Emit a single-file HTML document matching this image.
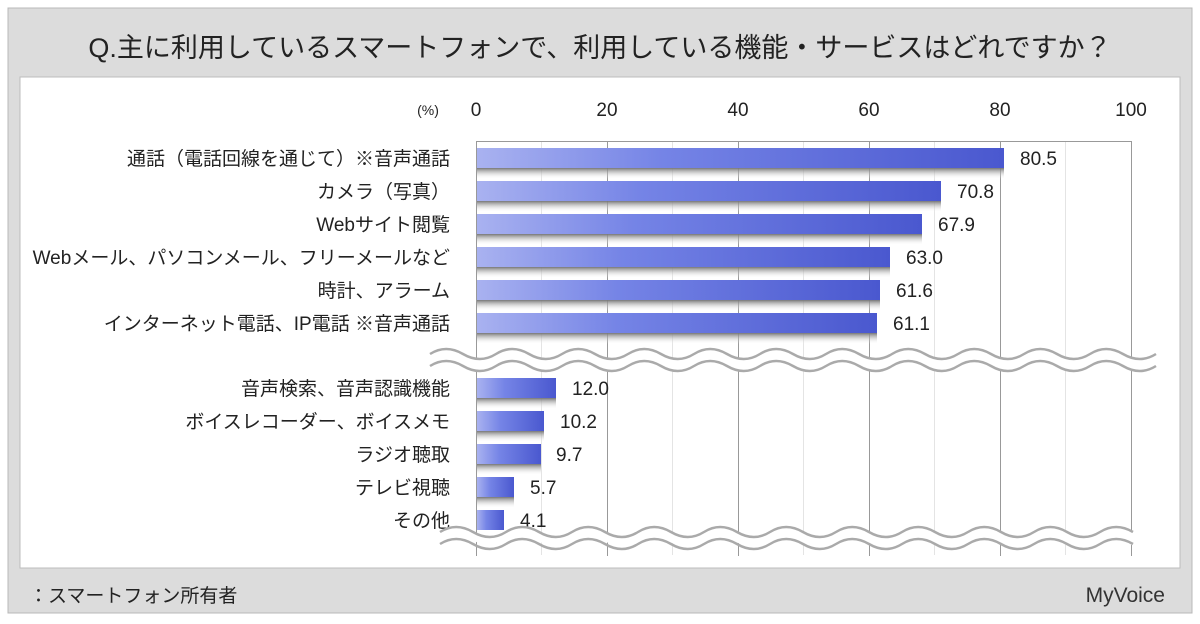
<!DOCTYPE html>
<html><head><meta charset="utf-8"><style>
body{margin:0;width:1200px;height:624px;background:#fff;overflow:hidden}
svg{display:block}
text{font-family:"Liberation Sans","Noto Sans CJK JP",sans-serif}
</style></head><body>
<svg width="1200" height="624" viewBox="0 0 1200 624">
<defs>
<linearGradient id="bg" x1="0" x2="1" y1="0" y2="0"><stop offset="0" stop-color="#a9b2f0"/><stop offset="0.35" stop-color="#7584e6"/><stop offset="1" stop-color="#4a58cf"/></linearGradient>
<linearGradient id="sh" x1="0" x2="0" y1="0" y2="1"><stop offset="0" stop-color="#777"/><stop offset="1" stop-color="#fff" stop-opacity="0"/></linearGradient>
</defs>
<rect x="8" y="8" width="1184" height="605" fill="#dcdcdc" stroke="#b8b8b8"/>
<rect x="20" y="77" width="1160" height="491" fill="#fff" stroke="#bdbdbd"/>
<text x="600" y="57" font-size="27" text-anchor="middle" fill="#222">Q.主に利用しているスマートフォンで、利用している機能・サービスはどれですか？</text>
<text x="29" y="602" font-size="19" fill="#222">：スマートフォン所有者</text>
<text x="1165" y="602" font-size="21" text-anchor="end" fill="#333" font-family="Liberation Serif,serif">MyVoice</text>
<g stroke="#e4e4e4" stroke-width="1">
<line x1="541.5" y1="141" x2="541.5" y2="555"/><line x1="672.5" y1="141" x2="672.5" y2="555"/><line x1="803.5" y1="141" x2="803.5" y2="555"/><line x1="934.5" y1="141" x2="934.5" y2="555"/><line x1="1065.5" y1="141" x2="1065.5" y2="555"/>
</g>
<g stroke="#999" stroke-width="1">
<line x1="476.5" y1="141" x2="476.5" y2="556"/><line x1="607.5" y1="141" x2="607.5" y2="556"/><line x1="738.5" y1="141" x2="738.5" y2="556"/><line x1="869.5" y1="141" x2="869.5" y2="556"/><line x1="1000.5" y1="141" x2="1000.5" y2="556"/><line x1="1131.5" y1="141" x2="1131.5" y2="556"/>
<line x1="476" y1="141.5" x2="1132" y2="141.5"/>
</g>
<g font-size="19" fill="#222" text-anchor="middle">
<text x="476" y="116">0</text><text x="607" y="116">20</text><text x="738" y="116">40</text><text x="869" y="116">60</text><text x="1000" y="116">80</text><text x="1131" y="116">100</text>
<text x="428" y="115" font-size="14">(%)</text>
</g>
<g>
<rect x="477" y="168" width="527" height="11" fill="url(#sh)"/><rect x="477" y="148" width="527" height="20" fill="url(#bg)"/>
<rect x="477" y="201" width="464" height="11" fill="url(#sh)"/><rect x="477" y="181" width="464" height="20" fill="url(#bg)"/>
<rect x="477" y="234" width="445" height="11" fill="url(#sh)"/><rect x="477" y="214" width="445" height="20" fill="url(#bg)"/>
<rect x="477" y="267" width="413" height="11" fill="url(#sh)"/><rect x="477" y="247" width="413" height="20" fill="url(#bg)"/>
<rect x="477" y="300" width="403" height="11" fill="url(#sh)"/><rect x="477" y="280" width="403" height="20" fill="url(#bg)"/>
<rect x="477" y="333" width="400" height="11" fill="url(#sh)"/><rect x="477" y="313" width="400" height="20" fill="url(#bg)"/>
<rect x="477" y="398" width="79" height="11" fill="url(#sh)"/><rect x="477" y="378" width="79" height="20" fill="url(#bg)"/>
<rect x="477" y="431" width="67" height="11" fill="url(#sh)"/><rect x="477" y="411" width="67" height="20" fill="url(#bg)"/>
<rect x="477" y="464" width="64" height="11" fill="url(#sh)"/><rect x="477" y="444" width="64" height="20" fill="url(#bg)"/>
<rect x="477" y="497" width="37" height="11" fill="url(#sh)"/><rect x="477" y="477" width="37" height="20" fill="url(#bg)"/>
<rect x="477" y="510" width="27" height="20" fill="url(#bg)"/>
</g>
<g font-size="19" fill="#222">
<text x="1020" y="165">80.5</text><text x="957" y="198">70.8</text><text x="938" y="231">67.9</text><text x="906" y="264">63.0</text><text x="896" y="297">61.6</text><text x="893" y="330">61.1</text>
<text x="572" y="395">12.0</text><text x="560" y="428">10.2</text><text x="556" y="461">9.7</text><text x="530" y="494">5.7</text><text x="520" y="527">4.1</text>
</g>
<g font-size="19" fill="#222" text-anchor="end">
<text x="450" y="165">通話（電話回線を通じて）※音声通話</text>
<text x="450" y="198">カメラ（写真）</text>
<text x="450" y="231">Webサイト閲覧</text>
<text x="450" y="264">Webメール、パソコンメール、フリーメールなど</text>
<text x="450" y="297">時計、アラーム</text>
<text x="450" y="330">インターネット電話、IP電話 ※音声通話</text>
<text x="450" y="395">音声検索、音声認識機能</text>
<text x="450" y="428">ボイスレコーダー、ボイスメモ</text>
<text x="450" y="461">ラジオ聴取</text>
<text x="450" y="494">テレビ視聴</text>
<text x="450" y="527">その他</text>
</g>
<g stroke="#aaa" stroke-width="2.5" fill="#fff">
<path d="M430 354 q16 -10 33 0 t33 0 t33 0 t33 0 t33 0 t33 0 t33 0 t33 0 t33 0 t33 0 t33 0 t33 0 t33 0 t33 0 t33 0 t33 0 t33 0 t33 0 t33 0 t33 0 t33 0 t33 0 l0 12 q-16 10 -33 0 t-33 0 t-33 0 t-33 0 t-33 0 t-33 0 t-33 0 t-33 0 t-33 0 t-33 0 t-33 0 t-33 0 t-33 0 t-33 0 t-33 0 t-33 0 t-33 0 t-33 0 t-33 0 t-33 0 t-33 0 t-33 0 z" stroke="none"/>
<path d="M430 354 q16 -10 33 0 t33 0 t33 0 t33 0 t33 0 t33 0 t33 0 t33 0 t33 0 t33 0 t33 0 t33 0 t33 0 t33 0 t33 0 t33 0 t33 0 t33 0 t33 0 t33 0 t33 0 t33 0" fill="none"/>
<path d="M430 366 q16 -10 33 0 t33 0 t33 0 t33 0 t33 0 t33 0 t33 0 t33 0 t33 0 t33 0 t33 0 t33 0 t33 0 t33 0 t33 0 t33 0 t33 0 t33 0 t33 0 t33 0 t33 0 t33 0" fill="none"/>
<path d="M440 532 q16 -10 33 0 t33 0 t33 0 t33 0 t33 0 t33 0 t33 0 t33 0 t33 0 t33 0 t33 0 t33 0 t33 0 t33 0 t33 0 t33 0 t33 0 t33 0 t33 0 t33 0 t33 0 l0 12 q-16 10 -33 0 t-33 0 t-33 0 t-33 0 t-33 0 t-33 0 t-33 0 t-33 0 t-33 0 t-33 0 t-33 0 t-33 0 t-33 0 t-33 0 t-33 0 t-33 0 t-33 0 t-33 0 t-33 0 t-33 0 t-33 0 z" stroke="none"/>
<path d="M440 532 q16 -10 33 0 t33 0 t33 0 t33 0 t33 0 t33 0 t33 0 t33 0 t33 0 t33 0 t33 0 t33 0 t33 0 t33 0 t33 0 t33 0 t33 0 t33 0 t33 0 t33 0 t33 0" fill="none"/>
<path d="M440 544 q16 -10 33 0 t33 0 t33 0 t33 0 t33 0 t33 0 t33 0 t33 0 t33 0 t33 0 t33 0 t33 0 t33 0 t33 0 t33 0 t33 0 t33 0 t33 0 t33 0 t33 0 t33 0" fill="none"/>
</g>
</svg>
</body></html>
